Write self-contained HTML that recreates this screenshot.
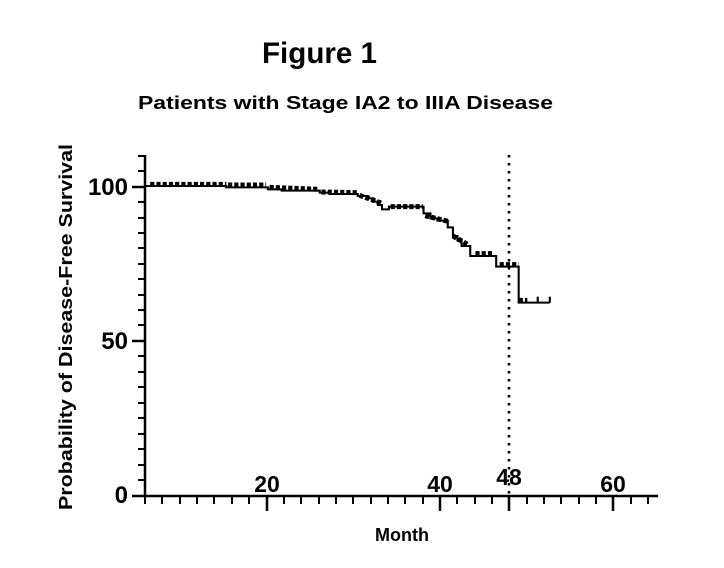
<!DOCTYPE html>
<html><head><meta charset="utf-8"><style>
html,body{margin:0;padding:0;background:#fff;}
svg{display:block;font-family:"Liberation Sans",Arial,sans-serif;}
</style></head><body>
<svg width="724" height="568" viewBox="0 0 724 568" xmlns="http://www.w3.org/2000/svg">
<rect width="724" height="568" fill="#fff"/>
<text x="262" y="63" font-size="30" font-weight="bold" textLength="115" lengthAdjust="spacingAndGlyphs">Figure 1</text>
<text x="138" y="109" font-size="18" font-weight="bold" textLength="415" lengthAdjust="spacingAndGlyphs">Patients with Stage IA2 to IIIA Disease</text>
<text transform="translate(72,327) rotate(-90)" font-size="18" font-weight="bold" text-anchor="middle" textLength="366" lengthAdjust="spacingAndGlyphs">Probability of Disease-Free Survival</text>
<text x="402" y="541" font-size="18" font-weight="bold" text-anchor="middle">Month</text>
<g font-size="24" font-weight="bold" text-anchor="end">
<text x="128" y="195">100</text>
<text x="128" y="349">50</text>
<text x="128" y="503">0</text>
</g>
<g font-size="23" font-weight="bold" text-anchor="middle">
<text x="267" y="492">20</text>
<text x="440" y="492">40</text>
<text x="509" y="485">48</text>
<text x="613" y="492">60</text>
</g>
<g stroke="#000" stroke-width="2.5" fill="none">
<line x1="145" y1="155" x2="145" y2="497"/>
<line x1="144" y1="496" x2="658" y2="496"/>
<line x1="132" y1="187" x2="145" y2="187"/>
<line x1="132" y1="341" x2="145" y2="341"/>
<line x1="132" y1="496" x2="145" y2="496"/>
</g>
<g stroke="#000" stroke-width="2">
<line x1="138" y1="156" x2="145" y2="156"/><line x1="138" y1="171" x2="145" y2="171"/>
<line x1="138" y1="202" x2="145" y2="202"/><line x1="138" y1="218" x2="145" y2="218"/>
<line x1="138" y1="233" x2="145" y2="233"/><line x1="138" y1="248" x2="145" y2="248"/>
<line x1="138" y1="264" x2="145" y2="264"/><line x1="138" y1="279" x2="145" y2="279"/>
<line x1="138" y1="295" x2="145" y2="295"/><line x1="138" y1="310" x2="145" y2="310"/>
<line x1="138" y1="325" x2="145" y2="325"/><line x1="138" y1="356" x2="145" y2="356"/>
<line x1="138" y1="372" x2="145" y2="372"/><line x1="138" y1="387" x2="145" y2="387"/>
<line x1="138" y1="403" x2="145" y2="403"/><line x1="138" y1="418" x2="145" y2="418"/>
<line x1="138" y1="434" x2="145" y2="434"/><line x1="138" y1="449" x2="145" y2="449"/>
<line x1="138" y1="465" x2="145" y2="465"/><line x1="138" y1="480" x2="145" y2="480"/>
</g>
<g stroke="#000" stroke-width="2">
<line x1="145" y1="496" x2="145" y2="504"/><line x1="162" y1="496" x2="162" y2="504"/>
<line x1="180" y1="496" x2="180" y2="504"/><line x1="197" y1="496" x2="197" y2="504"/>
<line x1="214" y1="496" x2="214" y2="504"/><line x1="232" y1="496" x2="232" y2="504"/>
<line x1="249" y1="496" x2="249" y2="504"/><line x1="267" y1="496" x2="267" y2="511" stroke-width="2.5"/>
<line x1="284" y1="496" x2="284" y2="504"/><line x1="301" y1="496" x2="301" y2="504"/>
<line x1="319" y1="496" x2="319" y2="504"/><line x1="336" y1="496" x2="336" y2="504"/>
<line x1="353" y1="496" x2="353" y2="504"/><line x1="371" y1="496" x2="371" y2="504"/>
<line x1="388" y1="496" x2="388" y2="504"/><line x1="405" y1="496" x2="405" y2="504"/>
<line x1="423" y1="496" x2="423" y2="504"/><line x1="440" y1="496" x2="440" y2="511" stroke-width="2.5"/>
<line x1="457" y1="496" x2="457" y2="504"/><line x1="475" y1="496" x2="475" y2="504"/>
<line x1="492" y1="496" x2="492" y2="504"/><line x1="509" y1="496" x2="509" y2="511" stroke-width="2.5"/>
<line x1="527" y1="496" x2="527" y2="504"/><line x1="544" y1="496" x2="544" y2="504"/>
<line x1="561" y1="496" x2="561" y2="504"/><line x1="579" y1="496" x2="579" y2="504"/>
<line x1="596" y1="496" x2="596" y2="504"/><line x1="613" y1="496" x2="613" y2="511" stroke-width="2.5"/>
<line x1="631" y1="496" x2="631" y2="504"/><line x1="648" y1="496" x2="648" y2="504"/>
</g>
<line x1="509" y1="155" x2="509" y2="496" stroke="#000" stroke-width="2.5" stroke-dasharray="2.5,5.5"/>
<g transform="translate(145,150) scale(0.346,0.3333) translate(-45,0)" fill="none" stroke="#000">
<polyline stroke-width="6" points="45,108 280,108 280,112 400,112 400,118 440,118 440,122 550,122 550,128 580,128 580,132 660,132 660,138 690,138 690,145 705,145 705,155 718,155 718,165 730,165 730,178 750,178 750,170 850,170 850,190 870,190 870,205 890,205 890,212 920,212 920,232 935,232 935,258 948,258 948,272 960,272 960,288 985,288 985,318 1060,318 1060,350 1125,350 1125,458 1215,458"/>
<g stroke-width="15" stroke-dasharray="12,6">
<line x1="60" y1="103" x2="280" y2="103"/>
<line x1="285" y1="105" x2="395" y2="105"/>
<line x1="405" y1="112" x2="545" y2="118"/>
<line x1="555" y1="126" x2="660" y2="128"/>
<line x1="665" y1="136" x2="730" y2="160"/>
<line x1="755" y1="170" x2="848" y2="170"/>
<line x1="855" y1="197" x2="925" y2="215"/>
<line x1="935" y1="258" x2="980" y2="285"/>
<line x1="1000" y1="311" x2="1050" y2="311"/>
<line x1="1070" y1="344" x2="1125" y2="344"/>
<line x1="1125" y1="451" x2="1150" y2="451"/>
</g>
<g stroke-width="6">
<line x1="1180" y1="440" x2="1180" y2="458"/>
<line x1="1215" y1="440" x2="1215" y2="458"/>
</g>
</g>
</svg>
</body></html>
